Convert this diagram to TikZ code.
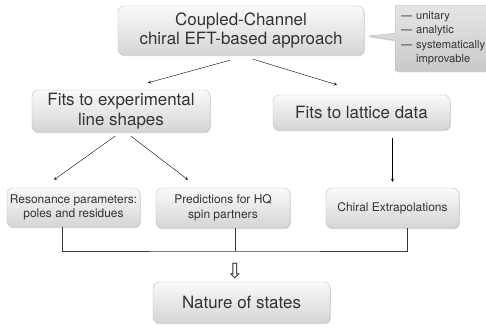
\documentclass[tikz,border=0pt]{standalone}
\usepackage{fontspec}
\setmainfont{TeX Gyre Heros}
\newfontfamily\symbfont{DejaVu Sans}
\usepackage{xcolor}
\usetikzlibrary{
    arrows,
    arrows.meta,
    shapes,
    shapes.callouts,
    positioning,
    shadows,
    calc
}
\definecolor{textgray}{gray}{0.2}

\begin{document}
\begin{tikzpicture}[x=1bp, y=-1bp, >=stealth,
    box-node/.style={rectangle, rounded corners=6bp, draw=gray!50, top color=gray!4, bottom color=gray!33,
                text=textgray, align=center, inner sep=0pt,
                drop shadow={opacity=0.3, shadow xshift=0.8pt, shadow yshift=-1.2pt}},
    note-node/.style={rectangle callout, rounded corners=2bp, draw=gray!55, top color=gray!20, bottom color=gray!42,
                text=textgray, align=left, inner xsep=6bp, inner ysep=0pt,
                font=\fontsize{11.2}{14.5}\selectfont,
                drop shadow={opacity=0.3, shadow xshift=0.8pt, shadow yshift=-1.2pt}},
    big-text/.style={font=\fontsize{17}{20}\selectfont},
    small-text/.style={font=\fontsize{12}{14.5}\selectfont},
    bracket/.style={draw=gray!45!black, line width=1pt}]
                \useasboundingbox (0,0) rectangle (486,329);
                % top level
                \node [box-node, big-text, minimum width=246bp, minimum height=49bp] (approach) at (241,30.5) {Coupled-Channel\\ chiral EFT-based approach};
                \node [note-node, anchor=north west, text width=88bp, minimum height=66bp,
                       callout absolute pointer={(368,36)}] (props) at (395,5) {— unitary\\ — analytic\\ — systematically\\ \phantom{— }improvable};
                % second level
                \node [box-node, big-text, minimum width=178bp, minimum height=42bp] (fitsexp) at (121,111) {Fits to experimental\\ line shapes};
                \node [box-node, big-text, minimum width=177bp, minimum height=35bp] (fitslat) at (361.5,112.5) {Fits to lattice data};
                % third level
                \node [box-node, small-text, minimum width=133bp, minimum height=39bp] (poles) at (73.5,207.5) {Resonance parameters:\\ poles and residues};
                \node [box-node, small-text, minimum width=134bp, minimum height=40bp] (partners) at (223,208) {Predictions for HQ\\ spin partners};
                \node [box-node, small-text, minimum width=133bp, minimum height=40bp] (extrap) at (392.5,208) {Chiral Extrapolations};
                % result
                \node [text=textgray, inner sep=0pt, font=\symbfont\fontsize{21}{21}\selectfont] (down) at (235,271) {⇩};
                \node [box-node, big-text, minimum width=177bp, minimum height=41bp] (nature) at (241.5,302.5) {Nature of states};
                \draw [->] ($(approach.south)+(-11,5)$) -- ($(fitsexp.north)+(27,-7)$);
                \draw [->] ($(approach.south)+(12,4)$) -- ($(fitslat.north)+(-24.5,-10)$);
                \draw [->] ($(fitsexp.south)+(-6,4)$) -- ($(poles.north)+(-19.5,-8)$);
                \draw [->] ($(fitsexp.south)+(10,4)$) -- ($(partners.north)+(-35,-8)$);
                \draw [->] ($(fitslat.south -| extrap.north)+(0,8)$) -- ($(extrap.north)+(0,-6)$);
                \coordinate (join) at (235,251);
                \draw [bracket] ($(poles.south)+(-11.5,0)$) |- (join) -| ($(extrap.south)+(14.5,0)$);
                \draw [bracket] (join |- partners.south) -- (join);
            \end{tikzpicture}
\end{document}
